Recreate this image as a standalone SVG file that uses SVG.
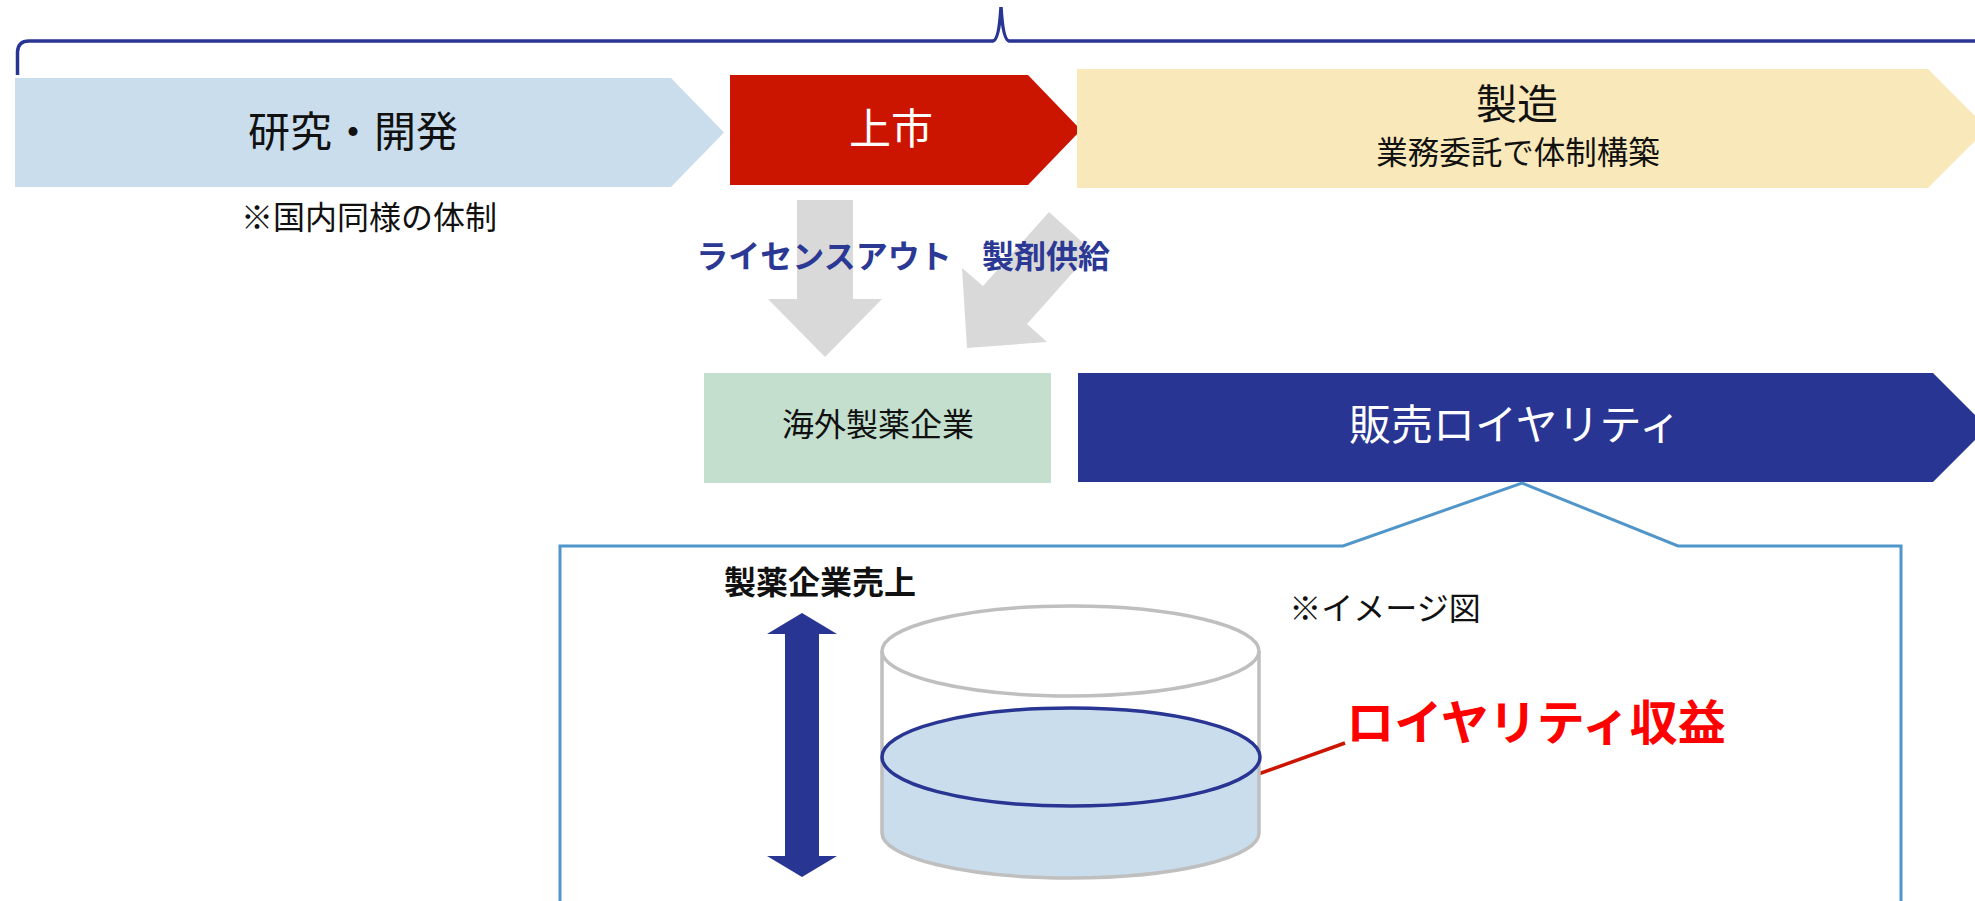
<svg xmlns="http://www.w3.org/2000/svg" width="1975" height="901" viewBox="0 0 1975 901">
<style>
text{font-family:"Noto Sans CJK JP","Noto Sans",sans-serif;text-anchor:middle;dominant-baseline:central}
.big{font-size:42px}
.mid{font-size:32px}
.b{font-weight:bold}
.w{fill:#FFFFFF}
.k{fill:#111111}
.nv{fill:#2B3894}
.gray{fill:#D9D9D9}
</style>
<rect width="1975" height="901" fill="#FFFFFF"/>
<g id="brace">
<path d="M17.5,75 L17.5,52 Q18,41 29,41 L993,41 Q999,40 1001,7 Q1003,40 1009,41 L1990,41" fill="none" stroke="#283593" stroke-width="3.5"/>
</g>
<g id="connectors">
<polygon class="gray" points="797,200 853,200 853,299 882,299 825,357 768,299 797,299"/>
<polygon class="gray" points="1049,212 1092,251 1027,324 1047,342 967,348 962,268 983,286"/>
<polygon fill="#283593" points="802,613 837,634 819,634 819,856 837,856 802,877 767,856 785,856 785,634 767,634"/>
<line x1="1239" y1="781" x2="1345" y2="743" stroke="#CC1500" stroke-width="3.5"/>
</g>
<g id="research">
<polygon points="15,78 671,78 724,132.5 671,187 15,187" fill="#CADDEC"/>
<text class="big k" x="353" y="128">研究・開発</text>
<text class="mid k" x="369" y="215">※国内同様の体制</text>
</g>
<g id="launch">
<polygon points="730,75 1028,75 1081,130 1028,185 730,185" fill="#CC1500"/>
<text class="big w" x="891" y="125">上市</text>
</g>
<g id="manufacture">
<polygon points="1077,69 1928,69 1987.5,128.5 1928,188 1077,188" fill="#F9E9BA"/>
<text class="k" x="1517" y="101" style="font-size:41px">製造</text>
<text class="k" x="1518" y="150" style="font-size:31.5px">業務委託で体制構築</text>
</g>
<g id="label-license">
<text class="mid b nv" x="824" y="254">ライセンスアウト</text>
</g>
<g id="label-supply">
<text class="mid b nv" x="1046" y="254">製剤供給</text>
</g>
<g id="overseas">
<rect x="704" y="373" width="347" height="110" fill="#C4DFCE"/>
<text class="mid k" x="878" y="422">海外製薬企業</text>
</g>
<g id="royalty">
<polygon points="1078,373 1933,373 1987.5,427.5 1933,482 1078,482" fill="#283593"/>
<text class="big w" x="1515" y="421">販売ロイヤリティ</text>
</g>
<g id="callout">
<path d="M560,910 L560,546 L1343,546 L1522,483 L1678,546 L1901,546 L1901,910" fill="none" stroke="#5096CA" stroke-width="3"/>
<text class="mid b k" x="820" y="580">製薬企業売上</text>
<text class="mid k" x="1385" y="606">※イメージ図</text>
</g>
<g id="cylinder">
<path d="M882,757 L882,833 A188.5,45 0 0 0 1259,833 L1259,757 Z" fill="#CADDEC"/>
<path d="M882,651 L882,833 A188.5,45 0 0 0 1259,833 L1259,651" fill="none" stroke="#BFBFBF" stroke-width="3.5"/>
<ellipse cx="1070.5" cy="651" rx="188.5" ry="45" fill="#FFFFFF" stroke="#BFBFBF" stroke-width="3.5"/>
<ellipse cx="1071" cy="757" rx="189" ry="49" fill="#CADDEC" stroke="#283593" stroke-width="3.5"/>
</g>
<g id="royalty-income">
<text class="b" x="1536" y="719" style="font-size:48px;fill:#FF0000">ロイヤリティ収益</text>
</g>
</svg>
